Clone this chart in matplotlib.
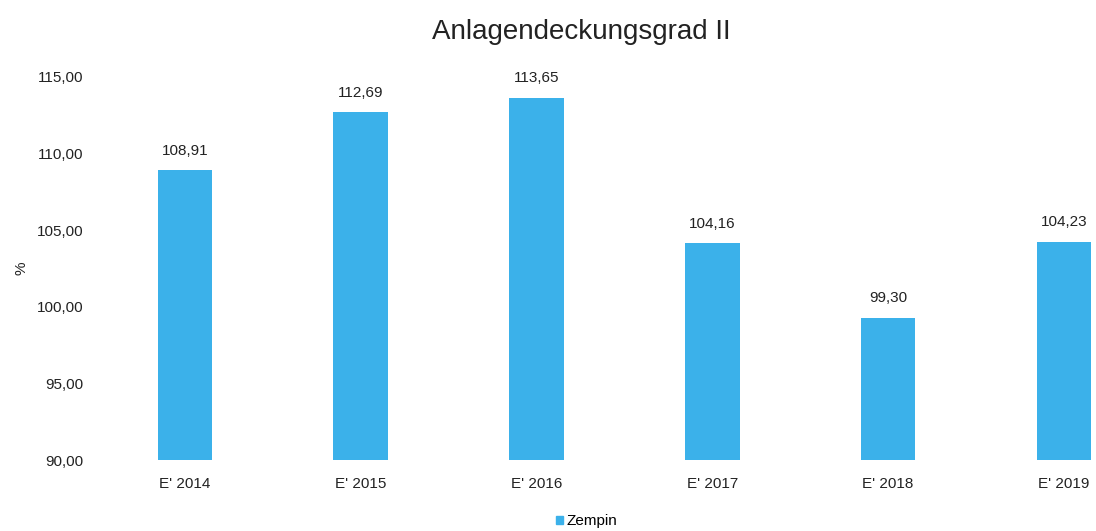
import matplotlib
matplotlib.use("Agg")
import matplotlib.pyplot as plt
from matplotlib.patches import Patch

plt.rcParams['font.family'] = ['Liberation Sans', 'DejaVu Sans']

categories = ["E' 2014", "E' 2015", "E' 2016", "E' 2017", "E' 2018", "E' 2019"]
values = [108.91, 112.69, 113.65, 104.16, 99.30, 104.23]
yticks = [90, 95, 100, 105, 110, 115]
series_name = "Zempin"
color = "#3BB1EA"

fig = plt.figure(figsize=(10.96, 5.31), dpi=100)
ax = fig.add_axes([0.0885, 0.1337, 0.9625, 0.7213])

x = list(range(len(categories)))
ax.bar(x, [v - 90 for v in values], bottom=90, width=0.31, color=color)
ax.set_xlim(-0.5, 5.5)
ax.set_ylim(90, 115)
ax.set_yticks(yticks)
ax.set_yticklabels([f"{t:.2f}".replace('.', ',') for t in yticks], fontsize=11)
ax.set_xticks(x)
ax.set_xticklabels(categories, fontsize=11)
ax.tick_params(length=0, pad=10, colors='#222222')
ax.tick_params(axis='x', pad=12)
for s in ax.spines.values():
    s.set_visible(False)

for xi, v in zip(x, values):
    ax.annotate(f"{v:.2f}".replace('.', ','), (xi, v), xytext=(0, 9),
                textcoords='offset points', ha='center', va='bottom',
                fontsize=11, color='#222222')

ax.set_ylabel('%', fontsize=11, color='#222222')
ax.yaxis.set_label_coords(-0.065, 0.5)

fig.text(0.53, 0.94, "Anlagendeckungsgrad II", ha='center', va='center',
         fontsize=20, color='#222222')

fig.legend(handles=[Patch(color=color, label=series_name)], loc='center',
           bbox_to_anchor=(0.535, 0.018), frameon=False, fontsize=11,
           handlelength=0.5, handleheight=0.5, handletextpad=0.2)

fig.savefig("out.png", dpi=100)
